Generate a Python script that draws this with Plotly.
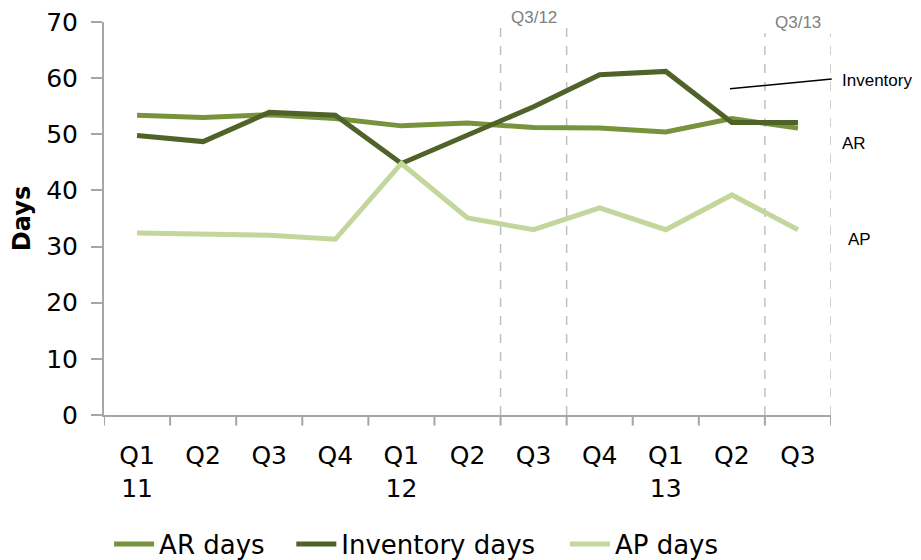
import plotly.graph_objects as go

quarters = ["Q1<br>11", "Q2", "Q3", "Q4", "Q1<br>12", "Q2", "Q3", "Q4", "Q1<br>13", "Q2", "Q3"]
ar_days = [53.4, 53.0, 53.5, 52.8, 51.5, 52.0, 51.2, 51.1, 50.4, 52.8, 51.1]
inventory_days = [49.8, 48.7, 53.9, 53.4, 44.8, 49.8, 54.9, 60.6, 61.2, 52.1, 52.1]
ap_days = [32.4, 32.3, 32.0, 31.3, 44.8, 35.1, 33.0, 36.9, 33.0, 39.2, 33.0]

series_names = ["AR days", "Inventory days", "AP days"]
legend_pad = ["&nbsp;&nbsp;&#8201;", "&nbsp;&nbsp;&nbsp;", "&nbsp;&nbsp;"]
colors = ["#77933C", "#4F6228", "#C3D69B"]

x_idx = list(range(len(quarters)))
FONT = "DejaVu Sans"
NOTE_FONT = "Liberation Sans"

fig = go.Figure()
for name, pad, vals, col in zip(series_names, legend_pad, [ar_days, inventory_days, ap_days], colors):
    fig.add_trace(go.Scatter(x=x_idx, y=vals, mode="lines",
                             name=name + pad,
                             line=dict(color=col, width=5)))

# dashed period markers
for xb, ytop in [(5.5, 69.1), (6.5, 69.1), (9.5, 68.0), (10.5, 68.0)]:
    fig.add_shape(type="line", xref="x", yref="y", x0=xb, x1=xb, y0=0, y1=ytop,
                  line=dict(color="#BFBFBF", width=1.5, dash="dash"), layer="below")

fig.add_annotation(x=6, y=1.0102, xref="x", yref="paper", yanchor="middle", text="Q3/12",
                   showarrow=False, font=dict(family=NOTE_FONT, size=17, color="#808080"))
fig.add_annotation(x=10, y=1.0, xref="x", yref="paper", yanchor="middle", text="Q3/13",
                   showarrow=False, font=dict(family=NOTE_FONT, size=17, color="#808080"))

# right side labels
fig.add_shape(type="line", xref="paper", yref="y", x0=0.861, x1=1.001, y0=58.1, y1=59.85,
              line=dict(color="black", width=1.5))
fig.add_annotation(x=1.013, y=59.6, xref="paper", yref="y", text="Inventory", showarrow=False,
                   xanchor="left", yanchor="middle", font=dict(family=NOTE_FONT, size=17, color="black"))
fig.add_annotation(x=1.013, y=48.4, xref="paper", yref="y", text="AR", showarrow=False,
                   xanchor="left", yanchor="middle", font=dict(family=NOTE_FONT, size=17, color="black"))
fig.add_annotation(x=1.02, y=31.3, xref="paper", yref="y", text="AP", showarrow=False,
                   xanchor="left", yanchor="middle", font=dict(family=NOTE_FONT, size=17, color="black"))

fig.update_layout(
    width=913, height=552,
    margin=dict(l=96, r=90, t=14, b=145, autoexpand=False),
    plot_bgcolor="white", paper_bgcolor="white",
    font=dict(family=FONT, size=25, color="black"),
    showlegend=True,
    legend=dict(orientation="h", x=0.007, xanchor="left", y=0.029, yanchor="middle",
                yref="container", font=dict(family=FONT, size=26), itemwidth=40),
    xaxis=dict(
        tickmode="array", tickvals=x_idx, ticktext=quarters,
        range=[-0.5, 10.5], showgrid=False, zeroline=False,
        showline=True, linecolor="#A6A6A6", linewidth=2, automargin=False,
        ticks="", ticklabelstandoff=17, tickfont=dict(family=FONT, size=25),
    ),
    yaxis=dict(
        range=[0, 70], dtick=10, showgrid=False, zeroline=False,
        showline=True, linecolor="#A6A6A6", linewidth=2, automargin=False,
        ticks="outside", ticklen=11, tickcolor="#A6A6A6", tickwidth=2,
        ticklabelstandoff=8, ticklabeloverflow="allow",
        tickfont=dict(family=FONT, size=25),
        title=dict(text="<b>Days</b>", font=dict(family=FONT, size=24), standoff=10),
    ),
)

# boundary ticks on x axis (category boundaries)
for b in [i - 0.5 for i in range(len(quarters) + 1)]:
    fig.add_shape(type="line", xref="x", yref="paper", x0=b, x1=b, y0=0, y1=-0.027,
                  line=dict(color="#A6A6A6", width=2))

fig.write_html("out.html")
